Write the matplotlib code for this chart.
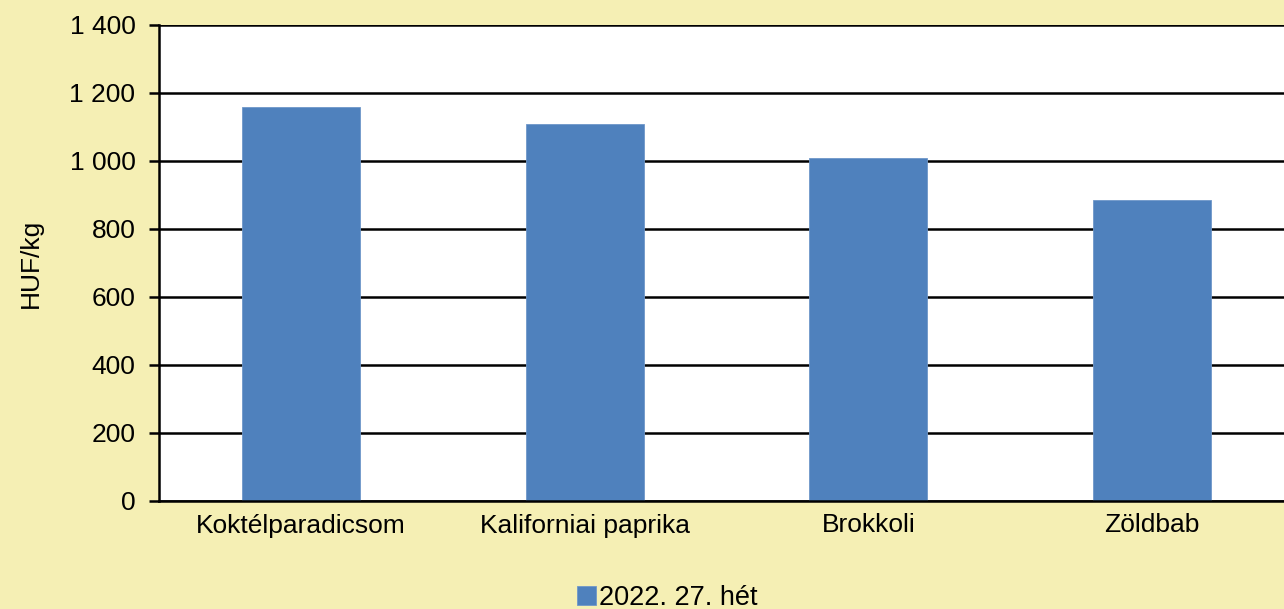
import numpy as np
import matplotlib.pyplot as plt
from matplotlib.ticker import FuncFormatter

categories = ['Koktélparadicsom', 'Kaliforniai paprika', 'Brokkoli', 'Zöldbab']
values = [1159, 1108, 1009, 884]
series_name = '2022. 27. hét'

bg = '#F5EFB4'
bar_color = '#4F81BD'

plt.rcParams['font.family'] = ['Liberation Sans', 'DejaVu Sans']
plt.rcParams['font.size'] = 19

fig = plt.figure(figsize=(12.84, 6.09), dpi=100, facecolor=bg)
ax = fig.add_axes([159/1284, 1-501/609, 1135/1284, 476/609])
ax.set_facecolor('white')

x = np.arange(len(categories))
ax.bar(x, values, width=0.415, color=bar_color, edgecolor='#6F97C9', linewidth=0.6,
       label=series_name, zorder=3)

ax.set_xlim(-0.5, len(categories) - 0.5)
ax.set_ylim(0, 1400)
ax.set_yticks(np.arange(0, 1401, 200))
ax.yaxis.set_major_formatter(FuncFormatter(lambda v, p: f'{int(v):,}'.replace(',', ' ')))
ax.set_xticks(x)
ax.set_xticklabels(categories)
ax.tick_params(axis='x', length=0, pad=9)
ax.tick_params(axis='y', length=7, width=1.8, pad=10)
ax.grid(axis='y', color='black', linewidth=1.8, zorder=1)
for s in ['top', 'right']:
    ax.spines[s].set_visible(False)
ax.spines['left'].set_linewidth(1.8)
ax.spines['bottom'].set_linewidth(1.8)
ax.spines['bottom'].set_zorder(4)
ax.set_ylabel('HUF/kg')
ax.yaxis.set_label_coords(-0.102, 0.5)

fig.legend(loc='center', bbox_to_anchor=(667/1284, 1-598/609), frameon=False,
           handlelength=0.7, handleheight=0.7, handletextpad=0.1, fontsize=19.5)

fig.savefig('out.png', dpi=100, facecolor=bg)
